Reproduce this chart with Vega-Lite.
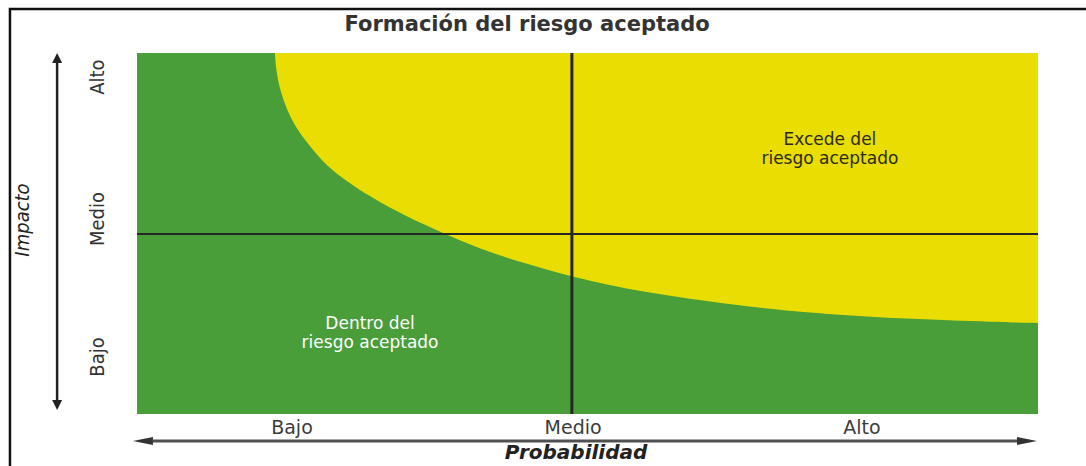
{
  "$schema": "https://vega.github.io/schema/vega-lite/v6.json",
  "width": 901,
  "height": 361,
  "autosize": "none",
  "padding": {"left": 137, "top": 53, "right": 48, "bottom": 52},
  "background": "white",
  "config": {"view": {"stroke": null}},
  "datasets": {
    "frontera": [
      {"p": 0.459, "impacto": 3.0},
      {"p": 0.463, "impacto": 2.859},
      {"p": 0.476, "impacto": 2.693},
      {"p": 0.499, "impacto": 2.526},
      {"p": 0.533, "impacto": 2.36},
      {"p": 0.586, "impacto": 2.194},
      {"p": 0.643, "impacto": 2.028},
      {"p": 0.776, "impacto": 1.803},
      {"p": 0.899, "impacto": 1.637},
      {"p": 1.019, "impacto": 1.504},
      {"p": 1.142, "impacto": 1.371},
      {"p": 1.275, "impacto": 1.263},
      {"p": 1.448, "impacto": 1.138},
      {"p": 1.675, "impacto": 1.014},
      {"p": 2.008, "impacto": 0.898},
      {"p": 2.208, "impacto": 0.848},
      {"p": 2.541, "impacto": 0.789},
      {"p": 2.873, "impacto": 0.765},
      {"p": 3.0, "impacto": 0.756}
    ],
    "zonas": [
      {"zona": "Excede del\nriesgo aceptado", "p": 2.307, "impacto": 2.281},
      {"zona": "Dentro del\nriesgo aceptado", "p": 0.776, "impacto": 0.748}
    ],
    "probabilidad": [
      {"nivel": "Bajo", "p": 0.516},
      {"nivel": "Medio", "p": 1.452},
      {"nivel": "Alto", "p": 2.414}
    ],
    "impacto": [
      {"nivel": "Bajo", "impacto": 0.474},
      {"nivel": "Medio", "impacto": 1.62},
      {"nivel": "Alto", "impacto": 2.8}
    ]
  },
  "layer": [
    {
      "data": {"values": [{}]},
      "mark": {"type": "rect", "filled": false, "stroke": "#111111", "strokeWidth": 2.5},
      "encoding": {
        "x": {"datum": -0.423, "type": "quantitative", "scale": {"domain": [0, 3], "nice": false}, "axis": null},
        "x2": {"datum": 3.5},
        "y": {"datum": 3.366, "type": "quantitative", "scale": {"domain": [0, 3], "nice": false}, "axis": null},
        "y2": {"datum": -0.8}
      }
    },
    {
      "data": {"values": [{}]},
      "mark": {"type": "rect", "color": "#4a9e3a"},
      "encoding": {
        "x": {"datum": 0, "type": "quantitative", "scale": {"domain": [0, 3], "nice": false}, "axis": null},
        "x2": {"datum": 3},
        "y": {"datum": 0, "type": "quantitative", "scale": {"domain": [0, 3], "nice": false}, "axis": null},
        "y2": {"datum": 3}
      }
    },
    {
      "data": {"name": "frontera"},
      "mark": {"type": "area", "interpolate": "basis", "color": "#e9dd02"},
      "encoding": {
        "x": {"field": "p", "type": "quantitative", "scale": {"domain": [0, 3], "nice": false}, "axis": null},
        "y": {"field": "impacto", "type": "quantitative", "scale": {"domain": [0, 3], "nice": false}, "axis": null},
        "y2": {"datum": 3}
      }
    },
    {
      "data": {"values": [{}]},
      "mark": {"type": "rule", "color": "#262626", "strokeWidth": 3},
      "encoding": {
        "x": {"datum": 1.448, "type": "quantitative", "scale": {"domain": [0, 3], "nice": false}, "axis": null},
        "y": {"datum": 0, "type": "quantitative", "scale": {"domain": [0, 3], "nice": false}, "axis": null},
        "y2": {"datum": 3}
      }
    },
    {
      "data": {"values": [{}]},
      "mark": {"type": "rule", "color": "#262626", "strokeWidth": 2},
      "encoding": {
        "x": {"datum": 0, "type": "quantitative", "scale": {"domain": [0, 3], "nice": false}, "axis": null},
        "x2": {"datum": 3},
        "y": {"datum": 1.496, "type": "quantitative", "scale": {"domain": [0, 3], "nice": false}, "axis": null}
      }
    },
    {
      "data": {"name": "zonas"},
      "mark": {"type": "text", "lineBreak": "\n", "font": "DejaVu Sans", "fontSize": 17, "lineHeight": 19, "align": "center", "baseline": "middle"},
      "encoding": {
        "x": {"field": "p", "type": "quantitative", "scale": {"domain": [0, 3], "nice": false}, "axis": null},
        "y": {"field": "impacto", "type": "quantitative", "scale": {"domain": [0, 3], "nice": false}, "axis": null},
        "text": {"field": "zona"},
        "color": {
          "field": "zona", "type": "nominal", "legend": null,
          "scale": {"domain": ["Excede del\nriesgo aceptado", "Dentro del\nriesgo aceptado"], "range": ["#2a2a14", "#ffffff"]}
        }
      }
    },
    {
      "data": {"name": "probabilidad"},
      "mark": {"type": "text", "font": "DejaVu Sans", "fontSize": 19, "color": "#3c3c3c", "align": "center", "baseline": "middle"},
      "encoding": {
        "x": {"field": "p", "type": "quantitative", "scale": {"domain": [0, 3], "nice": false}, "axis": null},
        "y": {"datum": -0.116, "type": "quantitative", "scale": {"domain": [0, 3], "nice": false}, "axis": null},
        "text": {"field": "nivel"}
      }
    },
    {
      "data": {"name": "impacto"},
      "mark": {"type": "text", "font": "Liberation Sans Narrow, DejaVu Sans Condensed, sans-serif", "fontSize": 20, "angle": 270, "color": "#333333", "align": "center", "baseline": "middle"},
      "encoding": {
        "x": {"datum": -0.13, "type": "quantitative", "scale": {"domain": [0, 3], "nice": false}, "axis": null},
        "y": {"field": "impacto", "type": "quantitative", "scale": {"domain": [0, 3], "nice": false}, "axis": null},
        "text": {"field": "nivel"}
      }
    },
    {
      "data": {"values": [{"t": "Formación del riesgo aceptado"}]},
      "mark": {"type": "text", "font": "DejaVu Sans", "fontWeight": "bold", "fontSize": 21, "color": "#333333", "align": "center", "baseline": "middle"},
      "encoding": {
        "x": {"datum": 1.299, "type": "quantitative", "scale": {"domain": [0, 3], "nice": false}, "axis": null},
        "y": {"datum": 3.233, "type": "quantitative", "scale": {"domain": [0, 3], "nice": false}, "axis": null},
        "text": {"field": "t"}
      }
    },
    {
      "data": {"values": [{"t": "Impacto"}]},
      "mark": {"type": "text", "font": "Liberation Sans Narrow, DejaVu Sans Condensed, sans-serif", "fontStyle": "italic", "fontSize": 20, "angle": 270, "color": "#222222", "align": "center", "baseline": "middle"},
      "encoding": {
        "x": {"datum": -0.38, "type": "quantitative", "scale": {"domain": [0, 3], "nice": false}, "axis": null},
        "y": {"datum": 1.612, "type": "quantitative", "scale": {"domain": [0, 3], "nice": false}, "axis": null},
        "text": {"field": "t"}
      }
    },
    {
      "data": {"values": [{"t": "Probabilidad"}]},
      "mark": {"type": "text", "font": "DejaVu Sans", "fontStyle": "italic", "fontWeight": "bold", "fontSize": 20, "color": "#222222", "align": "center", "baseline": "middle"},
      "encoding": {
        "x": {"datum": 1.462, "type": "quantitative", "scale": {"domain": [0, 3], "nice": false}, "axis": null},
        "y": {"datum": -0.324, "type": "quantitative", "scale": {"domain": [0, 3], "nice": false}, "axis": null},
        "text": {"field": "t"}
      }
    },
    {
      "data": {"values": [{}]},
      "mark": {"type": "rule", "color": "#222222", "strokeWidth": 2.5},
      "encoding": {
        "x": {"datum": -0.266, "type": "quantitative", "scale": {"domain": [0, 3], "nice": false}, "axis": null},
        "y": {"datum": 0.116, "type": "quantitative", "scale": {"domain": [0, 3], "nice": false}, "axis": null},
        "y2": {"datum": 2.917}
      }
    },
    {
      "data": {"values": [{}]},
      "mark": {"type": "point", "shape": "M0,-1L-0.5,0L0.5,0Z", "filled": true, "size": 400, "color": "#222222", "opacity": 1},
      "encoding": {
        "x": {"datum": -0.266, "type": "quantitative", "scale": {"domain": [0, 3], "nice": false}, "axis": null},
        "y": {"datum": 2.917, "type": "quantitative", "scale": {"domain": [0, 3], "nice": false}, "axis": null}
      }
    },
    {
      "data": {"values": [{}]},
      "mark": {"type": "point", "shape": "M0,1L-0.5,0L0.5,0Z", "filled": true, "size": 400, "color": "#222222", "opacity": 1},
      "encoding": {
        "x": {"datum": -0.266, "type": "quantitative", "scale": {"domain": [0, 3], "nice": false}, "axis": null},
        "y": {"datum": 0.116, "type": "quantitative", "scale": {"domain": [0, 3], "nice": false}, "axis": null}
      }
    },
    {
      "data": {"values": [{}]},
      "mark": {"type": "rule", "color": "#505050", "strokeWidth": 3},
      "encoding": {
        "x": {"datum": 0.053, "type": "quantitative", "scale": {"domain": [0, 3], "nice": false}, "axis": null},
        "x2": {"datum": 2.93},
        "y": {"datum": -0.224, "type": "quantitative", "scale": {"domain": [0, 3], "nice": false}, "axis": null}
      }
    },
    {
      "data": {"values": [{}]},
      "mark": {"type": "point", "shape": "M-1,0L0,-0.2L0,0.2Z", "filled": true, "size": 1600, "color": "#333333", "opacity": 1},
      "encoding": {
        "x": {"datum": 0.053, "type": "quantitative", "scale": {"domain": [0, 3], "nice": false}, "axis": null},
        "y": {"datum": -0.224, "type": "quantitative", "scale": {"domain": [0, 3], "nice": false}, "axis": null}
      }
    },
    {
      "data": {"values": [{}]},
      "mark": {"type": "point", "shape": "M1,0L0,-0.2L0,0.2Z", "filled": true, "size": 1600, "color": "#333333", "opacity": 1},
      "encoding": {
        "x": {"datum": 2.93, "type": "quantitative", "scale": {"domain": [0, 3], "nice": false}, "axis": null},
        "y": {"datum": -0.224, "type": "quantitative", "scale": {"domain": [0, 3], "nice": false}, "axis": null}
      }
    }
  ]
}
